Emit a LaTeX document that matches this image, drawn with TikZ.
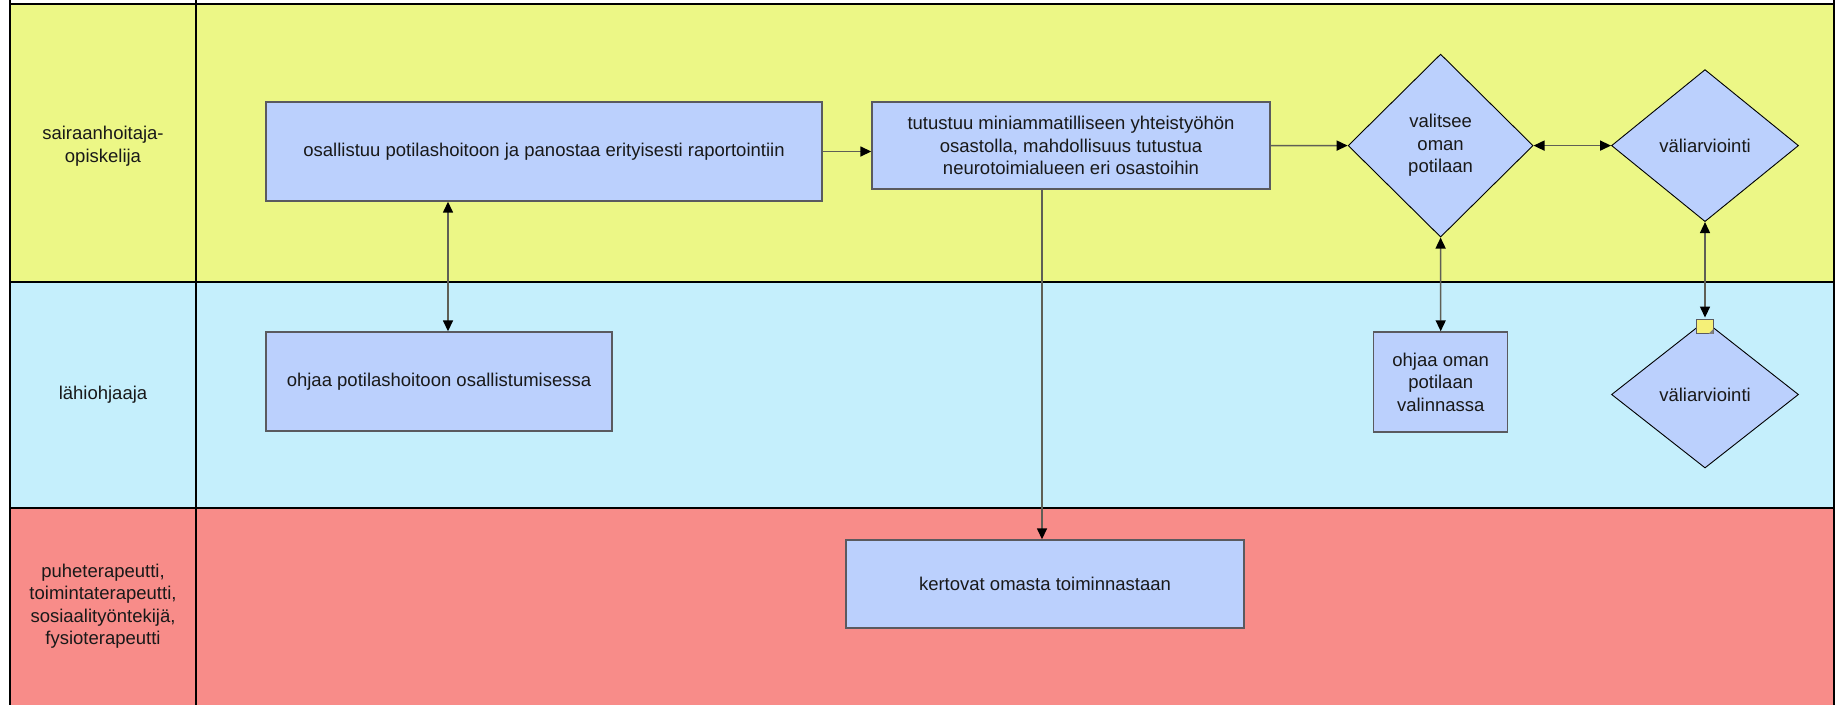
\documentclass[tikz,border=0pt]{standalone}
\usepackage{fontspec}
\setmainfont{Liberation Sans}
\usetikzlibrary{shapes.geometric,arrows.meta}
\definecolor{laneY}{RGB}{236,247,134}
\definecolor{laneB}{RGB}{197,239,252}
\definecolor{laneR}{RGB}{248,140,137}
\definecolor{boxfill}{RGB}{187,208,253}
\definecolor{boxline}{RGB}{90,90,95}
\definecolor{connc}{RGB}{95,95,85}
\definecolor{notefill}{RGB}{245,240,120}
\definecolor{txt}{RGB}{25,25,25}
\begin{document}
\begin{tikzpicture}[x=1pt,y=-1pt,
  every node/.style={font=\fontsize{18.5}{22.5}\selectfont, text=txt},
  lanelabel/.style={align=center},
  procbox/.style={draw=boxline, line width=1.4pt, fill=boxfill, inner sep=0pt, align=center},
  decis/.style={diamond, draw=black, line width=0.9pt, fill=boxfill, inner sep=0pt, align=center},
  connline/.style={draw=connc, line width=1.5pt},
  arr/.style={-{Triangle[length=11pt,width=10pt,color=black]}},
  darr/.style={{Triangle[length=11pt,width=10pt,color=black]}-{Triangle[length=11pt,width=10pt,color=black]}},
  lanerule/.style={draw=black, line width=2.6pt}]
\useasboundingbox (0,0) rectangle (1841,704);
% lanes
\fill[laneY] (10,4) rectangle (1834,282);
\fill[laneB] (10,282) rectangle (1834,508);
\fill[laneR] (10,508) rectangle (1834,710);
\draw[lanerule] (10,-3) -- (10,710);
\draw[lanerule] (196,-3) -- (196,710);
\draw[lanerule] (1834,-3) -- (1834,710);
\draw[lanerule] (10,4) -- (1834,4);
\draw[lanerule] (10,282) -- (1834,282);
\draw[lanerule] (10,508) -- (1834,508);
% lane labels
\node[lanelabel] (L1) at (103,146) {sairaanhoitaja-\\opiskelija};
\node[lanelabel] (L2) at (103,395) {lähiohjaaja};
\node[lanelabel] (L3) at (103,606) {puheterapeutti,\\toimintaterapeutti,\\sosiaalityöntekijä,\\fysioterapeutti};
% nodes
\node[procbox, minimum width=556pt, minimum height=99pt] (A) at (544,151.5) {osallistuu potilashoitoon ja panostaa erityisesti raportointiin};
\node[procbox, minimum width=346pt, minimum height=99pt] (B) at (439,381.5) {ohjaa potilashoitoon osallistumisessa};
\node[procbox, minimum width=398pt, minimum height=87pt] (C) at (1071,145.5) {tutustuu miniammatilliseen yhteistyöhön\\osastolla, mahdollisuus tutustua\\neurotoimialueen eri osastoihin};
\node[decis, minimum width=185pt, minimum height=183pt] (D1) at (1440.6,145.6) {valitsee\\oman\\potilaan};
\node[decis, minimum width=187pt, minimum height=152pt] (D2) at (1705,145.6) {väliarviointi};
\node[procbox, minimum width=134pt, minimum height=100pt] (E) at (1440.7,382) {ohjaa oman\\potilaan\\valinnassa};
\node[decis, minimum width=187pt, minimum height=147pt] (D3) at (1705,394.5) {väliarviointi};
\node[procbox, minimum width=398pt, minimum height=88pt] (K) at (1045,584) {kertovat omasta toiminnastaan};
% connectors
\draw[connline, darr] ([xshift=9pt]B.north) -- ([xshift=9pt]B.north |- A.south);
\draw[connline, arr] (A.east) -- (A.east -| C.west);
\draw[connline, arr] (C.east) -- (D1.west);
\draw[connline, darr] (D1.east) -- (D2.west);
\draw[connline, darr] (D1.south) -- (E.north);
\draw[connline, darr] (D2.south) -- ([yshift=3pt]D3.north);
\draw[connline, arr] ([xshift=-3pt]K.north |- C.south) -- ([xshift=-3pt]K.north);
% note marker
\node[draw=boxline, fill=notefill, minimum width=17pt, minimum height=14pt, inner sep=0pt, line width=1pt] (note) at (1704.5,326.3) {};
\fill[gray] (note.south east) -- ++(-5,0) -- ++(5,-5) -- cycle;
\end{tikzpicture}
\end{document}
